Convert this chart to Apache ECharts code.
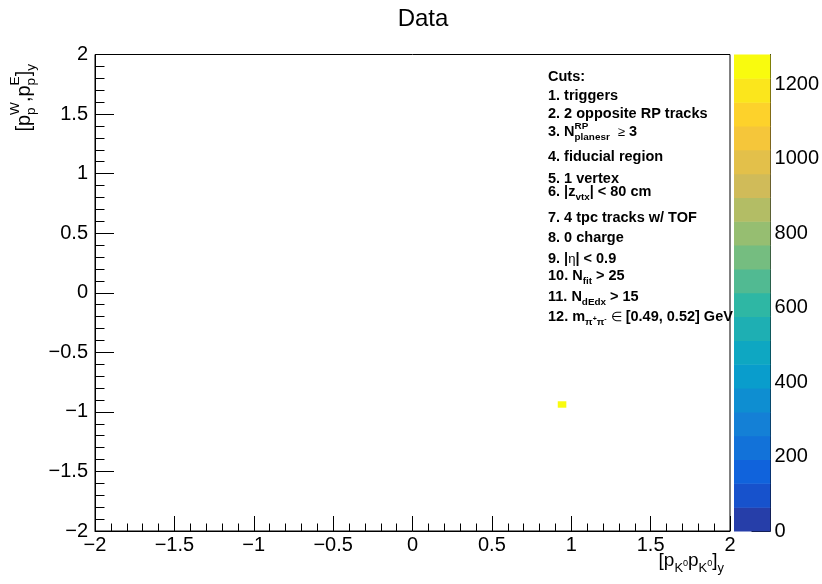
<!DOCTYPE html>
<html><head><meta charset="utf-8">
<script src="https://cdn.jsdelivr.net/npm/echarts@6/dist/echarts.min.js"></script>
<style>html,body{margin:0;padding:0;background:#fff}#c{width:822px;height:584px}</style>
</head><body><div id="c"></div>
<script>
// ---------------- data ----------------
const xTicks = [-2, -1.5, -1, -0.5, 0, 0.5, 1, 1.5, 2];
const yTicks = [-2, -1.5, -1, -0.5, 0, 0.5, 1, 1.5, 2];
const zTicks = [0, 200, 400, 600, 800, 1000, 1200];
const cellXLow = [0.915];
const cellYLow = [-0.965];
const cellValue = [1280];
const binWidth = 0.054;
const zMax = 1280;
const nContours = 20;
const chartTitle = 'Data';
// text lines: each is a list of [text, level] ; level: b base, sub, supS (sup stacked over next), ss (sup inside sub), sym (regular-weight symbol)
const cutsLines = [
  [['Cuts:','b']],
  [['1. triggers','b']],
  [['2. 2 opposite RP tracks','b']],
  [['3. N','b'],['RP','supS'],['planesr','sub'],['  ','b'],['\u2265','sym'],[' 3','b']],
  [['4. fiducial region','b']],
  [['5. 1 vertex','b']],
  [['6. |z','b'],['vtx','sub'],['| < 80 cm','b']],
  [['7. 4 tpc tracks w/ TOF','b']],
  [['8. 0 charge','b']],
  [['9. |','b'],['\u03b7','sym'],['| < 0.9','b']],
  [['10. N','b'],['fit','sub'],[' > 25','b']],
  [['11. N','b'],['dEdx','sub'],[' > 15','b']],
  [['12. m','b'],['\u03c0','sub'],['+','ss'],['\u03c0','sub'],['-','ss'],[' ','b'],['\u2208','sym'],[' [0.49, 0.52] GeV','b']]
];
const xTitle = [['[p','b'],['K','sub'],['0','ss'],['p','b'],['K','sub'],['0','ss'],[']','b'],['y','sub']];
const yTitle = [['[p','b'],['W','supS'],['p','sub'],[',p','b'],['E','supS'],['p','sub'],[']','b'],['y','sub']];

// ---------------- layout / style ----------------
const cutsY = [77, 96, 114, 132, 157, 179, 192, 218, 238, 259, 276, 297, 317];
const FAM = '"Liberation Sans", Arial, Helvetica, sans-serif';
const GRID = {left: 95, right: 92, top: 54.5, bottom: 53};
const CBAR = {left: 734, right: 51, top: 54.5, bottom: 53};

// ROOT kBird palette
const stops = [0,0.125,0.25,0.375,0.5,0.625,0.75,0.875,1];
const R = [0.2082,0.0592,0.0780,0.0232,0.1802,0.5301,0.8186,0.9956,0.9764];
const G = [0.1664,0.3599,0.5041,0.6419,0.7178,0.7492,0.7328,0.7862,0.9832];
const B = [0.5293,0.8684,0.8385,0.7914,0.6425,0.4662,0.3499,0.1968,0.0539];
function bird(t){
  t = Math.max(0, Math.min(1, t));
  let i = 0; while (i < stops.length - 2 && t > stops[i+1]) i++;
  const f = (t - stops[i]) / (stops[i+1] - stops[i]);
  const c = a => Math.round(255 * (a[i] + (a[i+1] - a[i]) * f));
  return `rgb(${c(R)},${c(G)},${c(B)})`;
}
function bandColor(i){ return bird((i + 0.99) / nContours); }
function valueColor(v){
  let i = Math.floor(v / zMax * nContours); if (i >= nContours) i = nContours - 1; if (i < 0) i = 0;
  return bandColor(i);
}
const minus = v => (v < 0 ? '\u2212' + Math.abs(v) : String(v));

// text measuring
const mctx = document.createElement('canvas').getContext('2d');
function measure(t, font){ mctx.font = font; return mctx.measureText(t).width; }
const LV = {
  b:   {k: 1,    dy: 0},
  sym: {k: 0.9,  dy: 0, regular: true},
  sub: {k: 0.68, dy: 0.38},
  supS:{k: 0.68, dy: -0.42, stack: true},
  ss:  {k: 0.48, dy: 0.12}
};
function buildText(segs, S, bold){
  const children = [];
  let x = 0, stackW = 0;
  segs.forEach(([t, l]) => {
    const lv = LV[l];
    const size = S * lv.k;
    const font = (bold && !lv.regular ? 'bold ' : '') + size.toFixed(1) + 'px ' + FAM;
    const w = measure(t, font);
    children.push({type: 'text', silent: true, x: x, y: lv.dy * S,
      style: {text: t, font: font, fill: '#000', align: 'left', verticalAlign: 'middle',
              textAlign: 'left', textVerticalAlign: 'middle'}});
    if (lv.stack) { stackW = w; }
    else { x += Math.max(w, stackW); stackW = 0; }
  });
  return {children, width: x};
}

const graphics = [];
graphics.push({type: 'text', silent: true, x: 423, y: 19,
  style: {text: chartTitle, font: '24px ' + FAM, fill: '#000', align: 'center', verticalAlign: 'middle',
          textAlign: 'center', textVerticalAlign: 'middle'}});
cutsLines.forEach((segs, i) => {
  const r = buildText(segs, 14.5, true);
  graphics.push({type: 'group', x: 548, y: cutsY[i], children: r.children});
});
const xt = buildText(xTitle, 19, false);
graphics.push({type: 'group', x: 724 - xt.width, y: 561, children: xt.children});
const yt = buildText(yTitle, 20, false);
graphics.push({type: 'group', x: 24, y: 64 + yt.width, rotation: Math.PI / 2, children: yt.children});

// ---------------- chart ----------------
const cells = cellXLow.map((x, i) => [x, cellYLow[i], cellValue[i]]);
const bands = [];
for (let i = 0; i < nContours; i++) bands.push([i * zMax / nContours, (i + 1) * zMax / nContours, i]);

const LBL = {color: '#000', fontSize: 20, fontFamily: FAM};

const chart = echarts.init(document.getElementById('c'), null, {renderer: 'canvas'});
chart.setOption({
  animation: false,
  backgroundColor: '#fff',
  grid: [
    Object.assign({show: true, borderColor: '#000', borderWidth: 1, backgroundColor: 'transparent'}, GRID),
    Object.assign({show: false}, CBAR)
  ],
  xAxis: [
    {
      gridIndex: 0, type: 'value', min: xTicks[0], max: xTicks[xTicks.length - 1], interval: 0.5,
      axisLine: {show: true, onZero: false, lineStyle: {color: '#000', width: 1}},
      splitLine: {show: false},
      axisTick: {show: true, inside: true, length: 15, lineStyle: {color: '#000'}},
      minorTick: {show: true, splitNumber: 5, length: 7.5, lineStyle: {color: '#000'}},
      axisLabel: Object.assign({}, LBL, {margin: 4, formatter: minus})
    },
    {gridIndex: 1, type: 'value', min: 0, max: 1, show: false, axisLine: {onZero: false}}
  ],
  yAxis: [
    {
      gridIndex: 0, type: 'value', min: yTicks[0], max: yTicks[yTicks.length - 1], interval: 0.5,
      axisLine: {show: true, onZero: false, lineStyle: {color: '#000', width: 1}},
      splitLine: {show: false},
      axisTick: {show: true, inside: true, length: 19, lineStyle: {color: '#000'}},
      minorTick: {show: true, splitNumber: 5, length: 9.5, lineStyle: {color: '#000'}},
      axisLabel: Object.assign({}, LBL, {margin: 7, formatter: minus})
    },
    {
      gridIndex: 1, type: 'value', min: 0, max: zMax, position: 'right',
      axisLine: {show: true, onZero: false, lineStyle: {color: '#000', width: 1}},
      splitLine: {show: false},
      axisTick: {show: true, inside: true, length: 19, lineStyle: {color: '#000'}, customValues: zTicks},
      axisLabel: Object.assign({}, LBL, {margin: 4, customValues: zTicks, formatter: v => String(v)})
    }
  ],
  series: [
    {
      type: 'custom', xAxisIndex: 0, yAxisIndex: 0, data: cells, silent: true,
      renderItem: (params, api) => {
        const x0 = api.value(0), y0 = api.value(1), v = api.value(2);
        const p1 = api.coord([x0, y0 + binWidth]);
        const p2 = api.coord([x0 + binWidth, y0]);
        return {type: 'rect', shape: {x: p1[0], y: p1[1], width: p2[0] - p1[0], height: p2[1] - p1[1]},
                style: {fill: valueColor(v)}};
      }
    },
    {
      type: 'custom', xAxisIndex: 1, yAxisIndex: 1, data: bands, silent: true, z: 1,
      renderItem: (params, api) => {
        const lo = api.value(0), hi = api.value(1), i = api.value(2);
        const p1 = api.coord([0, hi]);
        const p2 = api.coord([1, lo]);
        return {type: 'rect', shape: {x: p1[0], y: p1[1], width: p2[0] - p1[0], height: p2[1] - p1[1] + 0.5},
                style: {fill: bandColor(i)}};
      }
    }
  ],
  graphic: graphics
});
</script>
</body></html>
